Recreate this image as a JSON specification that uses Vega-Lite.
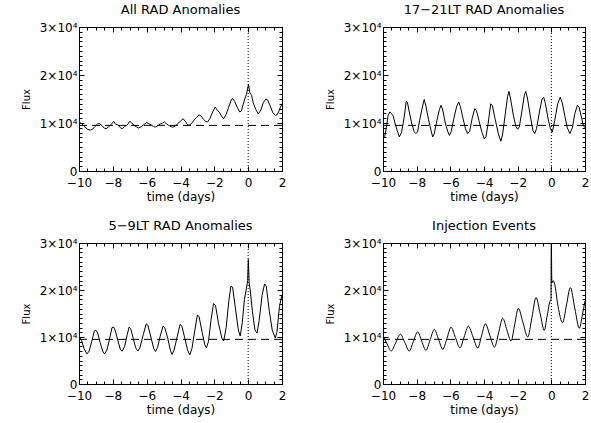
{
"$schema": "https://vega.github.io/schema/vega-lite/v6.json",
"background": "white",
"padding": {"left": 20, "top": 3, "right": 5, "bottom": 5},
"spacing": 16,
"config": {
  "view": {"stroke": "black", "strokeWidth": 1},
  "font": "DejaVu Sans",
  "axis": {"domain": false, "grid": false, "ticks": true, "tickOpacity": 1, "labelOverlap": false, "labelFlush": false, "tickColor": "black", "labelColor": "black", "titleColor": "black", "labelFont": "DejaVu Sans", "titleFont": "DejaVu Sans", "labelFontSize": 12, "titleFontSize": 12, "titleFontWeight": "normal", "tickWidth": 1},
  "title": {"font": "DejaVu Sans", "fontSize": 13, "fontWeight": "normal", "color": "black", "offset": 4},
  "concat": {"spacing": 37}
},
"datasets": {"d": [
{"p":"a","t":-10,"f":10200},{"p":"a","t":-9.85,"f":9900},{"p":"a","t":-9.7,"f":9300},{"p":"a","t":-9.5,"f":8700},{"p":"a","t":-9.33,"f":8500},{"p":"a","t":-9.2,"f":8700},{"p":"a","t":-9.05,"f":9300},{"p":"a","t":-8.9,"f":9800},{"p":"a","t":-8.8,"f":9900},{"p":"a","t":-8.65,"f":9500},{"p":"a","t":-8.5,"f":8900},{"p":"a","t":-8.4,"f":8800},{"p":"a","t":-8.25,"f":9200},{"p":"a","t":-8.1,"f":9700},{"p":"a","t":-7.95,"f":10350},{"p":"a","t":-7.85,"f":9800},{"p":"a","t":-7.7,"f":9600},{"p":"a","t":-7.55,"f":9000},{"p":"a","t":-7.45,"f":8800},{"p":"a","t":-7.3,"f":9300},{"p":"a","t":-7.15,"f":9600},{"p":"a","t":-7.0,"f":10350},{"p":"a","t":-6.9,"f":10100},{"p":"a","t":-6.75,"f":9500},{"p":"a","t":-6.6,"f":9200},{"p":"a","t":-6.47,"f":8950},{"p":"a","t":-6.3,"f":9300},{"p":"a","t":-6.15,"f":9700},{"p":"a","t":-6.0,"f":10100},{"p":"a","t":-5.9,"f":9900},{"p":"a","t":-5.75,"f":9600},{"p":"a","t":-5.6,"f":9300},{"p":"a","t":-5.5,"f":9150},{"p":"a","t":-5.35,"f":9400},{"p":"a","t":-5.2,"f":9800},{"p":"a","t":-5.05,"f":10000},{"p":"a","t":-4.95,"f":10200},{"p":"a","t":-4.85,"f":9900},{"p":"a","t":-4.7,"f":9500},{"p":"a","t":-4.55,"f":9200},{"p":"a","t":-4.45,"f":9150},{"p":"a","t":-4.3,"f":9400},{"p":"a","t":-4.15,"f":9900},{"p":"a","t":-4.0,"f":10400},{"p":"a","t":-3.85,"f":10900},{"p":"a","t":-3.7,"f":10300},{"p":"a","t":-3.6,"f":9700},{"p":"a","t":-3.5,"f":9500},{"p":"a","t":-3.35,"f":9900},{"p":"a","t":-3.2,"f":10600},{"p":"a","t":-3.05,"f":11200},{"p":"a","t":-2.9,"f":11700},{"p":"a","t":-2.8,"f":11500},{"p":"a","t":-2.65,"f":10800},{"p":"a","t":-2.5,"f":10300},{"p":"a","t":-2.4,"f":10200},{"p":"a","t":-2.25,"f":11000},{"p":"a","t":-2.1,"f":12300},{"p":"a","t":-1.95,"f":13300},{"p":"a","t":-1.85,"f":12800},{"p":"a","t":-1.7,"f":12200},{"p":"a","t":-1.55,"f":11300},{"p":"a","t":-1.45,"f":10900},{"p":"a","t":-1.3,"f":11800},{"p":"a","t":-1.15,"f":13300},{"p":"a","t":-1.0,"f":14800},{"p":"a","t":-0.92,"f":15100},{"p":"a","t":-0.8,"f":14500},{"p":"a","t":-0.65,"f":13300},{"p":"a","t":-0.5,"f":12300},{"p":"a","t":-0.4,"f":12500},{"p":"a","t":-0.3,"f":13800},{"p":"a","t":-0.2,"f":15000},{"p":"a","t":-0.1,"f":16000},{"p":"a","t":0.02,"f":18000},{"p":"a","t":0.1,"f":16300},{"p":"a","t":0.2,"f":15800},{"p":"a","t":0.3,"f":14200},{"p":"a","t":0.45,"f":12800},{"p":"a","t":0.6,"f":11900},{"p":"a","t":0.75,"f":12700},{"p":"a","t":0.9,"f":14300},{"p":"a","t":1.05,"f":15000},{"p":"a","t":1.15,"f":14800},{"p":"a","t":1.3,"f":13600},{"p":"a","t":1.45,"f":12200},{"p":"a","t":1.6,"f":11600},{"p":"a","t":1.7,"f":11700},{"p":"a","t":1.8,"f":12300},{"p":"a","t":1.9,"f":13200},{"p":"a","t":2.0,"f":14000},
{"p":"b","t":-10,"f":6800},{"p":"b","t":-9.9,"f":7200},{"p":"b","t":-9.8,"f":9000},{"p":"b","t":-9.7,"f":11500},{"p":"b","t":-9.6,"f":12300},{"p":"b","t":-9.5,"f":12000},{"p":"b","t":-9.4,"f":11500},{"p":"b","t":-9.25,"f":9500},{"p":"b","t":-9.1,"f":7800},{"p":"b","t":-9.03,"f":7100},{"p":"b","t":-8.9,"f":8000},{"p":"b","t":-8.75,"f":11000},{"p":"b","t":-8.62,"f":14500},{"p":"b","t":-8.55,"f":14300},{"p":"b","t":-8.45,"f":12500},{"p":"b","t":-8.3,"f":10000},{"p":"b","t":-8.15,"f":8200},{"p":"b","t":-8.05,"f":7800},{"p":"b","t":-7.95,"f":8100},{"p":"b","t":-7.8,"f":11000},{"p":"b","t":-7.65,"f":13500},{"p":"b","t":-7.55,"f":14900},{"p":"b","t":-7.45,"f":13500},{"p":"b","t":-7.3,"f":10800},{"p":"b","t":-7.15,"f":8500},{"p":"b","t":-7.05,"f":7100},{"p":"b","t":-6.95,"f":7800},{"p":"b","t":-6.8,"f":10500},{"p":"b","t":-6.65,"f":12800},{"p":"b","t":-6.55,"f":13700},{"p":"b","t":-6.45,"f":12700},{"p":"b","t":-6.3,"f":10000},{"p":"b","t":-6.15,"f":8200},{"p":"b","t":-6.05,"f":7400},{"p":"b","t":-5.95,"f":8200},{"p":"b","t":-5.8,"f":10800},{"p":"b","t":-5.62,"f":13500},{"p":"b","t":-5.5,"f":14400},{"p":"b","t":-5.4,"f":13400},{"p":"b","t":-5.25,"f":11000},{"p":"b","t":-5.1,"f":8800},{"p":"b","t":-4.97,"f":7800},{"p":"b","t":-4.85,"f":8300},{"p":"b","t":-4.7,"f":11000},{"p":"b","t":-4.55,"f":13000},{"p":"b","t":-4.45,"f":12600},{"p":"b","t":-4.3,"f":10500},{"p":"b","t":-4.12,"f":8000},{"p":"b","t":-3.98,"f":6700},{"p":"b","t":-3.88,"f":7200},{"p":"b","t":-3.75,"f":10000},{"p":"b","t":-3.6,"f":14000},{"p":"b","t":-3.5,"f":13600},{"p":"b","t":-3.35,"f":11000},{"p":"b","t":-3.15,"f":7800},{"p":"b","t":-3.0,"f":6200},{"p":"b","t":-2.9,"f":7500},{"p":"b","t":-2.75,"f":11500},{"p":"b","t":-2.6,"f":15500},{"p":"b","t":-2.52,"f":16600},{"p":"b","t":-2.42,"f":15000},{"p":"b","t":-2.25,"f":11500},{"p":"b","t":-2.1,"f":9200},{"p":"b","t":-2.0,"f":8700},{"p":"b","t":-1.9,"f":9200},{"p":"b","t":-1.75,"f":12500},{"p":"b","t":-1.6,"f":15800},{"p":"b","t":-1.52,"f":16600},{"p":"b","t":-1.42,"f":15200},{"p":"b","t":-1.25,"f":11500},{"p":"b","t":-1.1,"f":8500},{"p":"b","t":-0.99,"f":7800},{"p":"b","t":-0.88,"f":8800},{"p":"b","t":-0.7,"f":12500},{"p":"b","t":-0.55,"f":15000},{"p":"b","t":-0.45,"f":15300},{"p":"b","t":-0.35,"f":14000},{"p":"b","t":-0.2,"f":11000},{"p":"b","t":-0.05,"f":8800},{"p":"b","t":0.06,"f":8100},{"p":"b","t":0.2,"f":10500},{"p":"b","t":0.38,"f":14000},{"p":"b","t":0.53,"f":15400},{"p":"b","t":0.65,"f":14200},{"p":"b","t":0.8,"f":11500},{"p":"b","t":0.95,"f":9000},{"p":"b","t":1.1,"f":7800},{"p":"b","t":1.25,"f":9000},{"p":"b","t":1.4,"f":12000},{"p":"b","t":1.55,"f":13700},{"p":"b","t":1.65,"f":13300},{"p":"b","t":1.8,"f":11000},{"p":"b","t":1.9,"f":9500},{"p":"b","t":2.0,"f":9000},
{"p":"c","t":-10,"f":10200},{"p":"c","t":-9.85,"f":9300},{"p":"c","t":-9.7,"f":7500},{"p":"c","t":-9.53,"f":6400},{"p":"c","t":-9.4,"f":7000},{"p":"c","t":-9.25,"f":9000},{"p":"c","t":-9.1,"f":11200},{"p":"c","t":-9.02,"f":11500},{"p":"c","t":-8.9,"f":10900},{"p":"c","t":-8.75,"f":8800},{"p":"c","t":-8.6,"f":7000},{"p":"c","t":-8.49,"f":6400},{"p":"c","t":-8.35,"f":7200},{"p":"c","t":-8.2,"f":9500},{"p":"c","t":-8.05,"f":12000},{"p":"c","t":-7.95,"f":12100},{"p":"c","t":-7.85,"f":11300},{"p":"c","t":-7.7,"f":9200},{"p":"c","t":-7.55,"f":7300},{"p":"c","t":-7.45,"f":7000},{"p":"c","t":-7.3,"f":8000},{"p":"c","t":-7.15,"f":10500},{"p":"c","t":-7.04,"f":12100},{"p":"c","t":-6.95,"f":11800},{"p":"c","t":-6.8,"f":9800},{"p":"c","t":-6.65,"f":7700},{"p":"c","t":-6.52,"f":7000},{"p":"c","t":-6.4,"f":7700},{"p":"c","t":-6.2,"f":10500},{"p":"c","t":-6.03,"f":12800},{"p":"c","t":-5.93,"f":12500},{"p":"c","t":-5.75,"f":10000},{"p":"c","t":-5.58,"f":7500},{"p":"c","t":-5.48,"f":6900},{"p":"c","t":-5.35,"f":7800},{"p":"c","t":-5.2,"f":10200},{"p":"c","t":-5.03,"f":12300},{"p":"c","t":-4.93,"f":12000},{"p":"c","t":-4.75,"f":9700},{"p":"c","t":-4.6,"f":7200},{"p":"c","t":-4.5,"f":6300},{"p":"c","t":-4.38,"f":7200},{"p":"c","t":-4.2,"f":10000},{"p":"c","t":-4.02,"f":12700},{"p":"c","t":-3.92,"f":12300},{"p":"c","t":-3.75,"f":9800},{"p":"c","t":-3.58,"f":7200},{"p":"c","t":-3.45,"f":6200},{"p":"c","t":-3.32,"f":7600},{"p":"c","t":-3.15,"f":11500},{"p":"c","t":-3.0,"f":14700},{"p":"c","t":-2.9,"f":14300},{"p":"c","t":-2.72,"f":11000},{"p":"c","t":-2.57,"f":8400},{"p":"c","t":-2.47,"f":7700},{"p":"c","t":-2.35,"f":9000},{"p":"c","t":-2.2,"f":13500},{"p":"c","t":-2.05,"f":17100},{"p":"c","t":-1.93,"f":16700},{"p":"c","t":-1.75,"f":12800},{"p":"c","t":-1.55,"f":9700},{"p":"c","t":-1.45,"f":9150},{"p":"c","t":-1.3,"f":12000},{"p":"c","t":-1.15,"f":17500},{"p":"c","t":-1.02,"f":20800},{"p":"c","t":-0.92,"f":20600},{"p":"c","t":-0.75,"f":16000},{"p":"c","t":-0.58,"f":11500},{"p":"c","t":-0.47,"f":10200},{"p":"c","t":-0.35,"f":13000},{"p":"c","t":-0.22,"f":18000},{"p":"c","t":-0.1,"f":20400},{"p":"c","t":-0.03,"f":22000},{"p":"c","t":0.01,"f":26500},{"p":"c","t":0.06,"f":21500},{"p":"c","t":0.12,"f":20000},{"p":"c","t":0.25,"f":15500},{"p":"c","t":0.4,"f":11500},{"p":"c","t":0.52,"f":10800},{"p":"c","t":0.65,"f":13500},{"p":"c","t":0.82,"f":18800},{"p":"c","t":0.97,"f":21300},{"p":"c","t":1.07,"f":20800},{"p":"c","t":1.25,"f":15500},{"p":"c","t":1.42,"f":11500},{"p":"c","t":1.6,"f":9800},{"p":"c","t":1.7,"f":11000},{"p":"c","t":1.85,"f":16500},{"p":"c","t":2.0,"f":19000},
{"p":"d","t":-10,"f":10200},{"p":"d","t":-9.75,"f":8500},{"p":"d","t":-9.52,"f":7000},{"p":"d","t":-9.25,"f":8700},{"p":"d","t":-8.97,"f":10600},{"p":"d","t":-8.7,"f":8800},{"p":"d","t":-8.44,"f":7000},{"p":"d","t":-8.2,"f":9000},{"p":"d","t":-7.94,"f":11100},{"p":"d","t":-7.7,"f":9100},{"p":"d","t":-7.45,"f":7150},{"p":"d","t":-7.2,"f":9400},{"p":"d","t":-6.95,"f":11600},{"p":"d","t":-6.7,"f":9500},{"p":"d","t":-6.45,"f":7400},{"p":"d","t":-6.2,"f":9700},{"p":"d","t":-5.96,"f":12100},{"p":"d","t":-5.7,"f":9900},{"p":"d","t":-5.43,"f":7700},{"p":"d","t":-5.18,"f":10000},{"p":"d","t":-4.93,"f":12300},{"p":"d","t":-4.65,"f":10000},{"p":"d","t":-4.37,"f":7650},{"p":"d","t":-4.15,"f":10200},{"p":"d","t":-3.92,"f":12800},{"p":"d","t":-3.65,"f":10300},{"p":"d","t":-3.38,"f":7850},{"p":"d","t":-3.13,"f":10900},{"p":"d","t":-2.89,"f":14000},{"p":"d","t":-2.64,"f":11500},{"p":"d","t":-2.39,"f":9150},{"p":"d","t":-2.18,"f":12600},{"p":"d","t":-1.96,"f":16100},{"p":"d","t":-1.68,"f":13000},{"p":"d","t":-1.4,"f":10000},{"p":"d","t":-1.15,"f":14200},{"p":"d","t":-0.91,"f":18400},{"p":"d","t":-0.66,"f":14900},{"p":"d","t":-0.42,"f":11400},{"p":"d","t":-0.25,"f":14500},{"p":"d","t":-0.06,"f":17800},{"p":"d","t":-0.02,"f":18000},{"p":"d","t":0.0,"f":30500},{"p":"d","t":0.03,"f":21500},{"p":"d","t":0.1,"f":22000},{"p":"d","t":0.2,"f":21200},{"p":"d","t":0.4,"f":16500},{"p":"d","t":0.67,"f":13050},{"p":"d","t":0.9,"f":16800},{"p":"d","t":1.13,"f":20500},{"p":"d","t":1.4,"f":16000},{"p":"d","t":1.66,"f":11850},{"p":"d","t":1.85,"f":14800},{"p":"d","t":2.0,"f":17700}
]},
"vconcat": [
{"hconcat": [
{"title": "All RAD Anomalies", "width": 203, "height": 144, "data": {"name": "d"}, "transform": [{"filter": "datum.p == 'a'"}],
 "layer": [
  {"mark": {"type": "line", "color": "black", "strokeWidth": 1, "clip": true},
   "encoding": {
    "x": {"field": "t", "type": "quantitative", "scale": {"domain": [-10, 2], "nice": false, "zero": false}, "axis": {"orient": "bottom", "values": [-10,-8,-6,-4,-2,0,2], "title": "time (days)", "tickSize": 5, "offset": -5, "labelPadding": 6, "titlePadding": 3}},
    "y": {"field": "f", "type": "quantitative", "scale": {"domain": [0, 30000], "nice": false}, "axis": {"orient": "left", "values": [0,10000,20000,30000], "title": "Flux", "titleFontSize": 10, "titlePadding": 8, "tickSize": 5, "offset": -5, "labelPadding": 2, "labelExpr": "datum.value == 0 ? '0' : format(datum.value/10000, 'd') + '×10⁴'"}}
   }},
  {"mark": {"type": "line", "opacity": 0},
   "encoding": {
    "x": {"field": "t", "type": "quantitative", "axis": {"orient": "bottom", "values": [-10,-9.5,-9,-8.5,-8,-7.5,-7,-6.5,-6,-5.5,-5,-4.5,-4,-3.5,-3,-2.5,-2,-1.5,-1,-0.5,0,0.5,1,1.5,2], "labels": false, "title": null, "tickSize": 3, "offset": -3}},
    "y": {"field": "f", "type": "quantitative", "axis": {"orient": "left", "values": [0,1000,2000,3000,4000,5000,6000,7000,8000,9000,10000,11000,12000,13000,14000,15000,16000,17000,18000,19000,20000,21000,22000,23000,24000,25000,26000,27000,28000,29000,30000], "labels": false, "title": null, "tickSize": 3, "offset": -3}}
   }},
  {"mark": {"type": "line", "opacity": 0},
   "encoding": {
    "x": {"field": "t", "type": "quantitative", "axis": {"orient": "top", "values": [-10,-9.5,-9,-8.5,-8,-7.5,-7,-6.5,-6,-5.5,-5,-4.5,-4,-3.5,-3,-2.5,-2,-1.5,-1,-0.5,0,0.5,1,1.5,2], "labels": false, "title": null, "tickSize": 3, "offset": -3}},
    "y": {"field": "f", "type": "quantitative", "axis": {"orient": "right", "values": [0,1000,2000,3000,4000,5000,6000,7000,8000,9000,10000,11000,12000,13000,14000,15000,16000,17000,18000,19000,20000,21000,22000,23000,24000,25000,26000,27000,28000,29000,30000], "labels": false, "title": null, "tickSize": 3, "offset": -3}}
   }},
  {"data": {"values": [{}]}, "mark": {"type": "rule", "color": "black", "strokeWidth": 1, "strokeDash": [8, 5]},
   "encoding": {"y": {"datum": 9500, "type": "quantitative", "axis": {"orient": "right", "values": [0,10000,20000,30000], "labels": false, "title": null, "tickSize": 5, "offset": -5}}}},
  {"data": {"values": [{}]}, "mark": {"type": "rule", "color": "black", "strokeWidth": 1, "strokeDash": [1, 2]},
   "encoding": {"x": {"datum": 0, "type": "quantitative", "axis": {"orient": "top", "values": [-10,-8,-6,-4,-2,0,2], "labels": false, "title": null, "tickSize": 5, "offset": -5}}}}
 ],
 "resolve": {"axis": {"x": "independent", "y": "independent"}}
},
{"title": "17−21LT RAD Anomalies", "width": 202, "height": 144, "data": {"name": "d"}, "transform": [{"filter": "datum.p == 'b'"}],
 "layer": [
  {"mark": {"type": "line", "color": "black", "strokeWidth": 1, "clip": true},
   "encoding": {
    "x": {"field": "t", "type": "quantitative", "scale": {"domain": [-10, 2], "nice": false, "zero": false}, "axis": {"orient": "bottom", "values": [-10,-8,-6,-4,-2,0,2], "title": "time (days)", "tickSize": 5, "offset": -5, "labelPadding": 6, "titlePadding": 3}},
    "y": {"field": "f", "type": "quantitative", "scale": {"domain": [0, 30000], "nice": false}, "axis": {"orient": "left", "values": [0,10000,20000,30000], "title": "Flux", "titleFontSize": 10, "titlePadding": 8, "tickSize": 5, "offset": -5, "labelPadding": 2, "labelExpr": "datum.value == 0 ? '0' : format(datum.value/10000, 'd') + '×10⁴'"}}
   }},
  {"mark": {"type": "line", "opacity": 0},
   "encoding": {
    "x": {"field": "t", "type": "quantitative", "axis": {"orient": "bottom", "values": [-10,-9.5,-9,-8.5,-8,-7.5,-7,-6.5,-6,-5.5,-5,-4.5,-4,-3.5,-3,-2.5,-2,-1.5,-1,-0.5,0,0.5,1,1.5,2], "labels": false, "title": null, "tickSize": 3, "offset": -3}},
    "y": {"field": "f", "type": "quantitative", "axis": {"orient": "left", "values": [0,1000,2000,3000,4000,5000,6000,7000,8000,9000,10000,11000,12000,13000,14000,15000,16000,17000,18000,19000,20000,21000,22000,23000,24000,25000,26000,27000,28000,29000,30000], "labels": false, "title": null, "tickSize": 3, "offset": -3}}
   }},
  {"mark": {"type": "line", "opacity": 0},
   "encoding": {
    "x": {"field": "t", "type": "quantitative", "axis": {"orient": "top", "values": [-10,-9.5,-9,-8.5,-8,-7.5,-7,-6.5,-6,-5.5,-5,-4.5,-4,-3.5,-3,-2.5,-2,-1.5,-1,-0.5,0,0.5,1,1.5,2], "labels": false, "title": null, "tickSize": 3, "offset": -3}},
    "y": {"field": "f", "type": "quantitative", "axis": {"orient": "right", "values": [0,1000,2000,3000,4000,5000,6000,7000,8000,9000,10000,11000,12000,13000,14000,15000,16000,17000,18000,19000,20000,21000,22000,23000,24000,25000,26000,27000,28000,29000,30000], "labels": false, "title": null, "tickSize": 3, "offset": -3}}
   }},
  {"data": {"values": [{}]}, "mark": {"type": "rule", "color": "black", "strokeWidth": 1, "strokeDash": [8, 5]},
   "encoding": {"y": {"datum": 9500, "type": "quantitative", "axis": {"orient": "right", "values": [0,10000,20000,30000], "labels": false, "title": null, "tickSize": 5, "offset": -5}}}},
  {"data": {"values": [{}]}, "mark": {"type": "rule", "color": "black", "strokeWidth": 1, "strokeDash": [1, 2]},
   "encoding": {"x": {"datum": 0, "type": "quantitative", "axis": {"orient": "top", "values": [-10,-8,-6,-4,-2,0,2], "labels": false, "title": null, "tickSize": 5, "offset": -5}}}}
 ],
 "resolve": {"axis": {"x": "independent", "y": "independent"}}
}
]},
{"hconcat": [
{"title": "5−9LT RAD Anomalies", "width": 203, "height": 141, "data": {"name": "d"}, "transform": [{"filter": "datum.p == 'c'"}],
 "layer": [
  {"mark": {"type": "line", "color": "black", "strokeWidth": 1, "clip": true},
   "encoding": {
    "x": {"field": "t", "type": "quantitative", "scale": {"domain": [-10, 2], "nice": false, "zero": false}, "axis": {"orient": "bottom", "values": [-10,-8,-6,-4,-2,0,2], "title": "time (days)", "tickSize": 5, "offset": -5, "labelPadding": 6, "titlePadding": 3}},
    "y": {"field": "f", "type": "quantitative", "scale": {"domain": [0, 30000], "nice": false}, "axis": {"orient": "left", "values": [0,10000,20000,30000], "title": "Flux", "titleFontSize": 10, "titlePadding": 8, "tickSize": 5, "offset": -5, "labelPadding": 2, "labelExpr": "datum.value == 0 ? '0' : format(datum.value/10000, 'd') + '×10⁴'"}}
   }},
  {"mark": {"type": "line", "opacity": 0},
   "encoding": {
    "x": {"field": "t", "type": "quantitative", "axis": {"orient": "bottom", "values": [-10,-9.5,-9,-8.5,-8,-7.5,-7,-6.5,-6,-5.5,-5,-4.5,-4,-3.5,-3,-2.5,-2,-1.5,-1,-0.5,0,0.5,1,1.5,2], "labels": false, "title": null, "tickSize": 3, "offset": -3}},
    "y": {"field": "f", "type": "quantitative", "axis": {"orient": "left", "values": [0,1000,2000,3000,4000,5000,6000,7000,8000,9000,10000,11000,12000,13000,14000,15000,16000,17000,18000,19000,20000,21000,22000,23000,24000,25000,26000,27000,28000,29000,30000], "labels": false, "title": null, "tickSize": 3, "offset": -3}}
   }},
  {"mark": {"type": "line", "opacity": 0},
   "encoding": {
    "x": {"field": "t", "type": "quantitative", "axis": {"orient": "top", "values": [-10,-9.5,-9,-8.5,-8,-7.5,-7,-6.5,-6,-5.5,-5,-4.5,-4,-3.5,-3,-2.5,-2,-1.5,-1,-0.5,0,0.5,1,1.5,2], "labels": false, "title": null, "tickSize": 3, "offset": -3}},
    "y": {"field": "f", "type": "quantitative", "axis": {"orient": "right", "values": [0,1000,2000,3000,4000,5000,6000,7000,8000,9000,10000,11000,12000,13000,14000,15000,16000,17000,18000,19000,20000,21000,22000,23000,24000,25000,26000,27000,28000,29000,30000], "labels": false, "title": null, "tickSize": 3, "offset": -3}}
   }},
  {"data": {"values": [{}]}, "mark": {"type": "rule", "color": "black", "strokeWidth": 1, "strokeDash": [8, 5]},
   "encoding": {"y": {"datum": 9500, "type": "quantitative", "axis": {"orient": "right", "values": [0,10000,20000,30000], "labels": false, "title": null, "tickSize": 5, "offset": -5}}}},
  {"data": {"values": [{}]}, "mark": {"type": "rule", "color": "black", "strokeWidth": 1, "strokeDash": [1, 2]},
   "encoding": {"x": {"datum": 0, "type": "quantitative", "axis": {"orient": "top", "values": [-10,-8,-6,-4,-2,0,2], "labels": false, "title": null, "tickSize": 5, "offset": -5}}}}
 ],
 "resolve": {"axis": {"x": "independent", "y": "independent"}}
},
{"title": "Injection Events", "width": 202, "height": 141, "data": {"name": "d"}, "transform": [{"filter": "datum.p == 'd'"}],
 "layer": [
  {"mark": {"type": "line", "color": "black", "strokeWidth": 1, "clip": true, "interpolate": "monotone"},
   "encoding": {
    "x": {"field": "t", "type": "quantitative", "scale": {"domain": [-10, 2], "nice": false, "zero": false}, "axis": {"orient": "bottom", "values": [-10,-8,-6,-4,-2,0,2], "title": "time (days)", "tickSize": 5, "offset": -5, "labelPadding": 6, "titlePadding": 3}},
    "y": {"field": "f", "type": "quantitative", "scale": {"domain": [0, 30000], "nice": false}, "axis": {"orient": "left", "values": [0,10000,20000,30000], "title": "Flux", "titleFontSize": 10, "titlePadding": 8, "tickSize": 5, "offset": -5, "labelPadding": 2, "labelExpr": "datum.value == 0 ? '0' : format(datum.value/10000, 'd') + '×10⁴'"}}
   }},
  {"mark": {"type": "line", "opacity": 0},
   "encoding": {
    "x": {"field": "t", "type": "quantitative", "axis": {"orient": "bottom", "values": [-10,-9.5,-9,-8.5,-8,-7.5,-7,-6.5,-6,-5.5,-5,-4.5,-4,-3.5,-3,-2.5,-2,-1.5,-1,-0.5,0,0.5,1,1.5,2], "labels": false, "title": null, "tickSize": 3, "offset": -3}},
    "y": {"field": "f", "type": "quantitative", "axis": {"orient": "left", "values": [0,1000,2000,3000,4000,5000,6000,7000,8000,9000,10000,11000,12000,13000,14000,15000,16000,17000,18000,19000,20000,21000,22000,23000,24000,25000,26000,27000,28000,29000,30000], "labels": false, "title": null, "tickSize": 3, "offset": -3}}
   }},
  {"mark": {"type": "line", "opacity": 0},
   "encoding": {
    "x": {"field": "t", "type": "quantitative", "axis": {"orient": "top", "values": [-10,-9.5,-9,-8.5,-8,-7.5,-7,-6.5,-6,-5.5,-5,-4.5,-4,-3.5,-3,-2.5,-2,-1.5,-1,-0.5,0,0.5,1,1.5,2], "labels": false, "title": null, "tickSize": 3, "offset": -3}},
    "y": {"field": "f", "type": "quantitative", "axis": {"orient": "right", "values": [0,1000,2000,3000,4000,5000,6000,7000,8000,9000,10000,11000,12000,13000,14000,15000,16000,17000,18000,19000,20000,21000,22000,23000,24000,25000,26000,27000,28000,29000,30000], "labels": false, "title": null, "tickSize": 3, "offset": -3}}
   }},
  {"data": {"values": [{}]}, "mark": {"type": "rule", "color": "black", "strokeWidth": 1, "strokeDash": [8, 5]},
   "encoding": {"y": {"datum": 9500, "type": "quantitative", "axis": {"orient": "right", "values": [0,10000,20000,30000], "labels": false, "title": null, "tickSize": 5, "offset": -5}}}},
  {"data": {"values": [{}]}, "mark": {"type": "rule", "color": "black", "strokeWidth": 1, "strokeDash": [1, 2]},
   "encoding": {"x": {"datum": 0, "type": "quantitative", "axis": {"orient": "top", "values": [-10,-8,-6,-4,-2,0,2], "labels": false, "title": null, "tickSize": 5, "offset": -5}}}}
 ],
 "resolve": {"axis": {"x": "independent", "y": "independent"}}
}
]}
]
}
